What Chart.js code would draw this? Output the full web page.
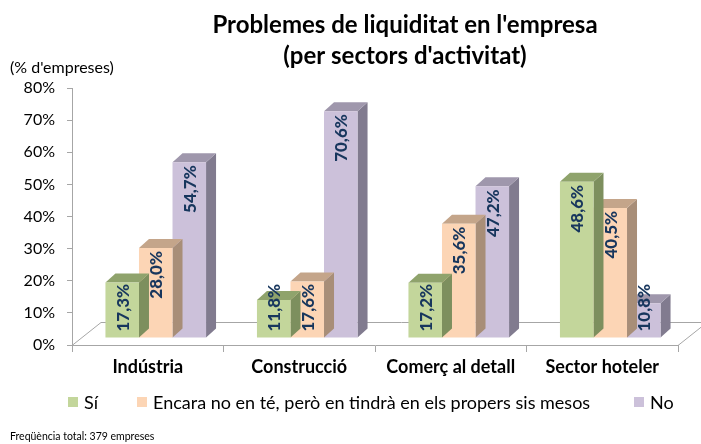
<!DOCTYPE html>
<html><head><meta charset="utf-8">
<script src="https://cdn.jsdelivr.net/npm/chart.js@4.4.1/dist/chart.umd.min.js"></script>
<style>html,body{margin:0;padding:0;background:#fff}#wrap{width:701px;height:444px;position:relative}</style>
</head><body><div id="wrap"><canvas id="c" width="701" height="444"></canvas></div>
<script>
// ---- data ----
const categories = ['Indústria', 'Construcció', 'Comerç al detall', 'Sector hoteler'];
const seriesNames = ['Sí', 'Encara no en té, però en tindrà en els propers sis mesos', 'No'];
const siValues = [17.3, 11.8, 17.2, 48.6];
const aviatValues = [28.0, 17.6, 35.6, 40.5];
const noValues = [54.7, 70.6, 47.2, 10.8];
const yTickValues = [0, 10, 20, 30, 40, 50, 60, 70, 80];
const titleLines = ["Problemes de liquiditat en l'empresa", "(per sectors d'activitat)"];
const unitLabel = "(% d'empreses)";
const footnote = 'Freqüència total: 379 empreses';

// ---- style ----
const FONT = 'Lato';
const frontColors = ['#C3D69B', '#FCD5B5', '#CCC1DA'];
const topColors = ['#8FA36C', '#C4A58A', '#9F97AC'];
const sideColors = ['#7D8F5E', '#A88E78', '#817B8F'];
const labelColor = '#17365D';
const axisGray = '#A6A6A6';
const SHIFT = {x: 8, y: -7};      // bars sit midway in the floor depth
const DEPTH = {x: 10, y: -9};     // bar 3D depth
const FLOOR = {x: 29, y: -23};    // floor depth

function fmt(v) { return v.toFixed(1).replace('.', ',') + '%'; }

const bar3d = {
  id: 'bar3d',
  beforeDatasetsDraw(chart) {
    const {ctx, chartArea: a} = chart;
    ctx.save();
    ctx.strokeStyle = axisGray; ctx.lineWidth = 1;
    ctx.beginPath();
    ctx.moveTo(a.left, a.bottom + 0.5);
    ctx.lineTo(a.left + FLOOR.x, a.bottom + FLOOR.y + 0.5);
    ctx.lineTo(a.right + FLOOR.x, a.bottom + FLOOR.y + 0.5);
    ctx.moveTo(a.right, a.bottom + 0.5);
    ctx.lineTo(a.right + FLOOR.x, a.bottom + FLOOR.y + 0.5);
    ctx.stroke();
    ctx.restore();
  },
  beforeDatasetDraw(chart, args) {
    const {ctx} = chart;
    const i = args.index;
    ctx.save();
    ctx.translate(SHIFT.x, SHIFT.y);
    args.meta.data.forEach(el => {
      const {x, y, base, width} = el.getProps(['x', 'y', 'base', 'width'], true);
      const l = x - width / 2, r = x + width / 2;
      ctx.fillStyle = sideColors[i];
      ctx.beginPath();
      ctx.moveTo(r, y); ctx.lineTo(r + DEPTH.x, y + DEPTH.y);
      ctx.lineTo(r + DEPTH.x, base + DEPTH.y); ctx.lineTo(r, base);
      ctx.closePath(); ctx.fill();
      ctx.fillStyle = topColors[i];
      ctx.beginPath();
      ctx.moveTo(l, y); ctx.lineTo(l + DEPTH.x, y + DEPTH.y);
      ctx.lineTo(r + DEPTH.x, y + DEPTH.y); ctx.lineTo(r, y);
      ctx.closePath(); ctx.fill();
    });
  },
  afterDatasetDraw(chart) {
    chart.ctx.restore();
  },
  afterDatasetsDraw(chart) {
    const {ctx} = chart;
    ctx.save();
    ctx.translate(SHIFT.x, SHIFT.y);
    ctx.font = '900 17px ' + FONT;
    ctx.fillStyle = labelColor;
    ctx.textAlign = 'right';
    ctx.textBaseline = 'middle';
    chart.data.datasets.forEach((ds, i) => {
      chart.getDatasetMeta(i).data.forEach((el, j) => {
        const {x, y, base} = el.getProps(['x', 'y', 'base'], true);
        const txt = fmt(ds.data[j]);
        const w = ctx.measureText(txt).width;
        const end = Math.min(y + 3, base - 6 - w);
        ctx.save();
        ctx.translate(x + 1, end);
        ctx.rotate(-Math.PI / 2);
        ctx.fillText(txt, 0, 0);
        ctx.restore();
      });
    });
    ctx.restore();
  },
  afterDraw(chart) {
    const {ctx} = chart;
    ctx.save();
    ctx.fillStyle = '#000';
    ctx.textAlign = 'center';
    ctx.textBaseline = 'alphabetic';
    ctx.font = 'bold 24px ' + FONT;
    ctx.fillText(titleLines[0], 405, 33);
    ctx.fillText(titleLines[1], 405, 64);
    ctx.textAlign = 'left';
    ctx.font = '16px ' + FONT;
    ctx.fillText(unitLabel, 10, 73);
    ctx.font = '10.5px ' + FONT;
    ctx.fillText(footnote, 10, 440);
    ctx.font = '18px ' + FONT;
    ctx.textBaseline = 'middle';
    const ly = 402;
    const starts = [68, 137, 634];
    chart.data.datasets.forEach((ds, i) => {
      const bx = starts[i];
      ctx.fillStyle = ds.backgroundColor;
      ctx.fillRect(bx, ly - 5, 10, 10);
      ctx.fillStyle = '#000';
      ctx.fillText(ds.label, bx + 16, ly + 1);
    });
    ctx.restore();
  }
};

new Chart(document.getElementById('c'), {
  type: 'bar',
  data: {
    labels: categories,
    datasets: [
      {label: seriesNames[0], data: siValues, backgroundColor: frontColors[0]},
      {label: seriesNames[1], data: aviatValues, backgroundColor: frontColors[1]},
      {label: seriesNames[2], data: noValues, backgroundColor: frontColors[2]}
    ]
  },
  options: {
    responsive: false,
    animation: false,
    devicePixelRatio: 1,
    layout: {padding: {top: 88, left: 8, right: 23, bottom: 62}},
    datasets: {bar: {categoryPercentage: 0.664, barPercentage: 1.0, clip: false, borderWidth: 0}},
    plugins: {legend: {display: false}, title: {display: false}, tooltip: {enabled: false}},
    scales: {
      x: {
        grid: {display: true, drawOnChartArea: false, drawTicks: true, tickLength: 7, color: axisGray, offset: true},
        border: {display: true, color: axisGray},
        ticks: {color: '#000', font: {family: FONT, size: 18, weight: 'bold'}, padding: 4, maxRotation: 0},
        afterFit(s) { s.height = 37; }
      },
      y: {
        min: 0, max: 80,
        afterBuildTicks(s) { s.ticks = yTickValues.map(v => ({value: v})); },
        grid: {display: true, drawOnChartArea: false, drawTicks: true, tickLength: 5, color: axisGray},
        border: {display: true, color: axisGray},
        ticks: {color: '#000', font: {family: FONT, size: 16}, padding: 12, callback: v => v + '%'},
        afterFit(s) { s.width = 64; }
      }
    }
  },
  plugins: [bar3d]
});
</script>
</body></html>
